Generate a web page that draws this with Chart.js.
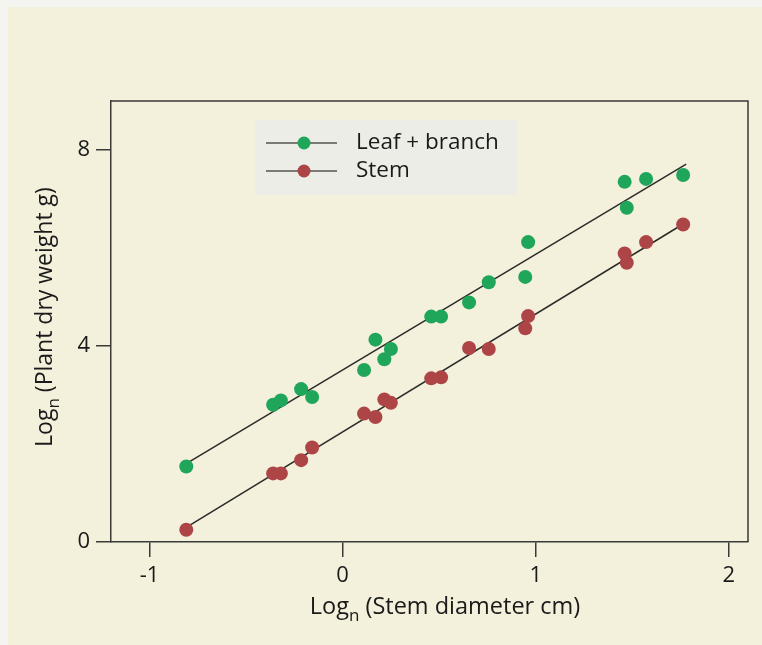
<!DOCTYPE html>
<html>
<head>
<meta charset="utf-8">
<script src="https://cdn.jsdelivr.net/npm/chart.js@4/dist/chart.umd.min.js"></script>
<style>
  html, body { margin: 0; padding: 0; background: #f4f4f1; }
  #paper { position: absolute; left: 8px; top: 7px; right: 0; bottom: 0; background: #f3f0dc; }
  #wrap { position: absolute; left: 0; top: 0; width: 762px; height: 645px; }
</style>
</head>
<body>
<div id="paper"></div>
<div id="wrap"><canvas id="chart" width="762" height="645"></canvas></div>
<script>
// ── Data (log stem diameter vs log dry weight) ────────────────────────────────
const stemDiameter = [-0.81, -0.36, -0.32, -0.215, -0.158, 0.111, 0.17, 0.216, 0.25,
                      0.459, 0.51, 0.655, 0.757, 0.946, 0.961, 1.461, 1.472, 1.572, 1.764];
const leafBranch   = [1.54, 2.80, 2.89, 3.12, 2.96, 3.51, 4.13, 3.73, 3.94,
                      4.60, 4.60, 4.89, 5.30, 5.41, 6.12, 7.35, 6.82, 7.41, 7.49];
const stem         = [0.25, 1.40, 1.40, 1.67, 1.93, 2.62, 2.55, 2.91, 2.84,
                      3.34, 3.36, 3.96, 3.94, 4.36, 4.61, 5.89, 5.70, 6.12, 6.48];

// fitted lines, end points
const leafFitX = [-0.81, 1.78];
const leafFitY = [1.60, 7.71];
const stemFitX = [-0.81, 1.764];
const stemFitY = [0.30, 6.49];

const xTicks = [-1, 0, 1, 2];
const yTicks = [0, 4, 8];

const SERIES = [
  { label: "Leaf + branch", color: "#1fa65a", values: leafBranch },
  { label: "Stem",          color: "#ad4547", values: stem },
];

const FONT = "'Open Sans', Lato, sans-serif";
const INK = "#1a1a1a";
const AXIS = "#3a3a36";

// ── Plugins ───────────────────────────────────────────────────────────────────

// closes the frame on top and right
const framePlugin = {
  id: "frame",
  beforeDatasetsDraw(chart) {
    const { ctx, chartArea: a } = chart;
    ctx.save();
    ctx.strokeStyle = AXIS;
    ctx.lineWidth = 1.5;
    ctx.beginPath();
    ctx.moveTo(a.left, a.top);
    ctx.lineTo(a.right, a.top);
    ctx.lineTo(a.right, a.bottom);
    ctx.stroke();
    ctx.restore();
  },
};

// "Log" with subscript n
function drawLogTitle(ctx, rest, size) {
  const sub = Math.round(size * 0.72);
  ctx.font = `${size}px ${FONT}`;
  const w1 = ctx.measureText("Log").width;
  ctx.font = `${sub}px ${FONT}`;
  const w2 = ctx.measureText("n").width;
  ctx.font = `${size}px ${FONT}`;
  const w3 = ctx.measureText(" " + rest).width;
  let x = -(w1 + w2 + w3) / 2;
  ctx.textAlign = "left";
  ctx.textBaseline = "alphabetic";
  ctx.fillText("Log", x, 0);
  x += w1;
  ctx.font = `${sub}px ${FONT}`;
  ctx.fillText("n", x, size * 0.3);
  x += w2;
  ctx.font = `${size}px ${FONT}`;
  ctx.fillText(" " + rest, x, 0);
}

const titlesPlugin = {
  id: "titles",
  afterDraw(chart) {
    const { ctx } = chart;
    ctx.save();
    ctx.fillStyle = INK;
    ctx.translate(445, 614);
    drawLogTitle(ctx, "(Stem diameter cm)", 23.5);
    ctx.restore();

    ctx.save();
    ctx.fillStyle = INK;
    ctx.translate(52, 317);
    ctx.rotate(-Math.PI / 2);
    drawLogTitle(ctx, "(Plant dry weight g)", 23);
    ctx.restore();
  },
};

const legendBoxPlugin = {
  id: "legendBox",
  afterDatasetsDraw(chart) {
    const { ctx } = chart;
    ctx.save();
    ctx.fillStyle = "#ecede6";
    ctx.fillRect(255, 120, 262, 75);
    SERIES.forEach((s, i) => {
      const y = 143 + i * 28;
      ctx.strokeStyle = "#555550";
      ctx.lineWidth = 1.5;
      ctx.beginPath();
      ctx.moveTo(266, y);
      ctx.lineTo(337, y);
      ctx.stroke();
      ctx.fillStyle = s.color;
      ctx.beginPath();
      ctx.arc(304, y, 6.5, 0, Math.PI * 2);
      ctx.fill();
      ctx.fillStyle = INK;
      ctx.font = `22.5px ${FONT}`;
      ctx.textAlign = "left";
      ctx.textBaseline = "middle";
      ctx.fillText(s.label, 356, y);
    });
    ctx.restore();
  },
};

// ── Chart ─────────────────────────────────────────────────────────────────────

function fitLine(xs, ys) {
  return {
    type: "line",
    data: xs.map((x, i) => ({ x, y: ys[i] })),
    borderColor: "#2b2b28",
    borderWidth: 1.5,
    pointRadius: 0,
    fill: false,
    order: 2,
  };
}

const datasets = [
  fitLine(leafFitX, leafFitY),
  fitLine(stemFitX, stemFitY),
  ...SERIES.map(s => ({
    label: s.label,
    data: stemDiameter.map((x, i) => ({ x, y: s.values[i] })),
    backgroundColor: s.color,
    borderColor: s.color,
    pointRadius: 7,
    pointBorderWidth: 0,
    order: 1,
  })),
];

const tickStyle = { color: INK, font: { family: FONT, size: 22 } };
const gridStyle = {
  drawOnChartArea: false,
  drawTicks: true,
  tickLength: 15,
  color: AXIS,
  lineWidth: 1.5,
};

new Chart(document.getElementById("chart"), {
  type: "scatter",
  data: { datasets },
  options: {
    responsive: false,
    animation: false,
    layout: { padding: { left: 0, top: 101, right: 14, bottom: 0 } },
    plugins: { legend: { display: false }, tooltip: { enabled: false } },
    scales: {
      x: {
        type: "linear",
        min: -1.2,
        max: 2.1,
        grid: gridStyle,
        border: { display: true, color: AXIS, width: 1.5 },
        ticks: { ...tickStyle, padding: 6, maxRotation: 0, callback: v => String(v) },
        afterBuildTicks: s => { s.ticks = xTicks.map(v => ({ value: v })); },
        afterFit: s => { s.height = 103; },
      },
      y: {
        type: "linear",
        min: 0,
        max: 9,
        grid: gridStyle,
        border: { display: true, color: AXIS, width: 1.5 },
        ticks: { ...tickStyle, padding: 6, callback: v => String(v) },
        afterBuildTicks: s => { s.ticks = yTicks.map(v => ({ value: v })); },
        afterFit: s => { s.width = 111; },
      },
    },
  },
  plugins: [framePlugin, legendBoxPlugin, titlesPlugin],
});
</script>
</body>
</html>
